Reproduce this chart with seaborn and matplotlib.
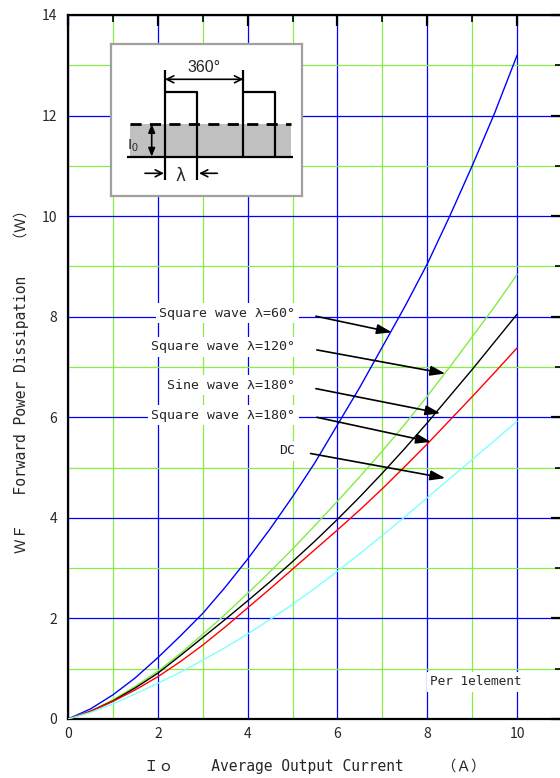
import pandas as pd
import seaborn as sns
import matplotlib.pyplot as plt
from matplotlib.patches import Rectangle

# --- curves (Io in A, WF in W) ---
io = [0, 0.5, 1, 1.5, 2, 2.5, 3, 3.5, 4, 4.5, 5, 5.5, 6, 6.5, 7, 7.5, 8, 8.5, 9, 9.5, 10]
sq60 = [0, 0.20, 0.48, 0.82, 1.22, 1.65, 2.10, 2.62, 3.18, 3.78, 4.42, 5.10, 5.85,
        6.60, 7.40, 8.20, 9.05, 10.0, 11.0, 12.05, 13.2]
sq120 = [0, 0.16, 0.38, 0.65, 0.95, 1.30, 1.68, 2.08, 2.50, 2.93, 3.38, 3.85, 4.33,
         4.82, 5.33, 5.86, 6.42, 7.00, 7.60, 8.20, 8.84]
sine180 = [0, 0.15, 0.36, 0.62, 0.91, 1.26, 1.62, 1.98, 2.35, 2.73, 3.13, 3.54, 3.97,
           4.42, 4.89, 5.38, 5.89, 6.42, 6.95, 7.50, 8.05]
sq180 = [0, 0.15, 0.35, 0.58, 0.84, 1.14, 1.47, 1.83, 2.21, 2.59, 2.98, 3.37, 3.76,
         4.16, 4.58, 5.02, 5.47, 5.94, 6.41, 6.89, 7.38]
dc = [0, 0.13, 0.30, 0.50, 0.71, 0.93, 1.17, 1.42, 1.69, 1.98, 2.28, 2.60, 2.94,
      3.29, 3.65, 4.02, 4.40, 4.78, 5.16, 5.54, 5.92]

curve_names = ["Square wave λ=60°", "Square wave λ=120°", "Sine wave λ=180°",
               "Square wave λ=180°", "DC"]
curve_colors = ["#0000ff", "#80ee40", "#000000", "#ff0000", "#80ffff"]

# label anchor (text right edge) and arrow tip on each curve
label_y = [8.07, 7.40, 6.64, 6.04, 5.33]
arrow_start = [(5.52, 8.01), (5.54, 7.34), (5.52, 6.57), (5.54, 6.00), (5.40, 5.28)]
arrow_tip = [(7.21, 7.69), (8.40, 6.87), (8.29, 6.08), (8.08, 5.51), (8.40, 4.79)]

series = [sq60, sq120, sine180, sq180, dc]
df = pd.concat([pd.DataFrame({"Io": io, "WF": y, "curve": n})
                for y, n in zip(series, curve_names)], ignore_index=True)

sns.set_style("white")
plt.rcParams['font.family'] = ['Noto Sans CJK JP', 'DejaVu Sans']
mono = ['DejaVu Sans Mono', 'Noto Sans CJK JP']

fig = plt.figure(figsize=(5.6, 7.78), dpi=100)
ax = fig.add_axes([68 / 560, 59 / 778, 494 / 560, 704 / 778])

sns.lineplot(data=df, x="Io", y="WF", hue="curve", hue_order=curve_names,
             palette=dict(zip(curve_names, curve_colors)), sort=False,
             estimator=None, legend=False, lw=1.0, ax=ax, zorder=3)

ax.set_xlim(0, 11)
ax.set_ylim(0, 14)
ax.set_xticks(range(0, 11, 2))
ax.set_xticks(range(1, 10, 2), minor=True)
ax.set_yticks(range(0, 15, 2))
ax.set_yticks(range(1, 14, 2), minor=True)
ax.grid(which="major", color="#0000ff", lw=0.9)
ax.grid(which="minor", color="#88ee44", lw=0.9)
ax.set_axisbelow(True)
ax.tick_params(which="both", direction="in", top=True, right=True, labelsize=10)
ax.tick_params(which="major", length=8, width=1.6, color="black")
ax.tick_params(which="minor", length=5, width=1.2, color="black")
ax.tick_params(axis="x", pad=6)
ax.tick_params(axis="y", pad=8)
for s in ax.spines.values():
    s.set_linewidth(1.6)
    s.set_color("black")

ax.set_xlabel("Ｉｏ　　 Average Output Current　　 （Ａ）", fontsize=10.5, family=mono)
ax.set_ylabel("ＷＦ　　Forward Power Dissipation　　（Ｗ）", fontsize=10.5, family=mono)
ax.xaxis.set_label_coords(0.5, -0.056)
ax.yaxis.set_label_coords(-0.078, 0.484)

# labels sit on white boxes that break the grid, arrows point at the curves
box = dict(facecolor="white", edgecolor="none", pad=2.5)
for name, ly, (sx, sy), (tx, ty) in zip(curve_names, label_y, arrow_start, arrow_tip):
    ax.text(5.06, ly, name, ha="right", va="center", fontsize=9.5, family=mono,
            bbox=box, zorder=4)
    ax.annotate("", xy=(tx, ty), xytext=(sx, sy),
                arrowprops=dict(arrowstyle="-|>,head_length=0.9,head_width=0.3",
                                color="black", lw=1.2, shrinkA=0, shrinkB=0),
                zorder=5)

ax.text(8.06, 0.74, "Per 1element", ha="left", va="center", fontsize=9.2, family=mono,
        bbox=box, zorder=4)

# --- waveform inset ---
ins = fig.add_axes([110.7 / 560, 1 - 195.7 / 778, 191.6 / 560, 151.7 / 778], zorder=6)
ins.set_xlim(0, 191.6)
ins.set_ylim(151.7, 0)
ins.set_xticks([])
ins.set_yticks([])
ins.set_facecolor("white")
for s in ins.spines.values():
    s.set_color("#a0a0a0")
    s.set_linewidth(1.6)
k = dict(color="black", lw=1.6, solid_capstyle="butt")
ins.add_patch(Rectangle((19.3, 80), 161, 32.7, color="#c0c0c0", lw=0))
ins.plot([19.3, 180.3], [80, 80], color="black", lw=2, dashes=(4, 3))
ins.plot([16.6, 182], [112.7, 112.7], **k)
ins.plot([54.3, 54.3], [26, 136], **k)
ins.plot([54.3, 86.6, 86.6], [48.3, 48.3, 136], **k)
ins.plot([132.6, 132.6], [26, 112.7], **k)
ins.plot([132.6, 164, 164], [48.3, 48.3, 112.7], **k)
ins.annotate("", xy=(132.6, 35.3), xytext=(54.3, 35.3),
             arrowprops=dict(arrowstyle="<->,head_length=0.5,head_width=0.25",
                             lw=1.2, color="black", shrinkA=0, shrinkB=0))
ins.text(93.3, 31, "360°", ha="center", va="bottom", fontsize=11.5,
         family="Liberation Sans")
ins.annotate("", xy=(41, 80), xytext=(41, 112.7),
             arrowprops=dict(arrowstyle="<|-|>,head_length=0.5,head_width=0.2",
                             lw=1.2, color="black", shrinkA=0, shrinkB=0))
ins.text(22.3, 102, r"$\mathregular{I_0}$", ha="center", va="center", fontsize=11,
         family="Liberation Sans")
ins.annotate("", xy=(53.3, 129.3), xytext=(34.3, 129.3),
             arrowprops=dict(arrowstyle="->,head_length=0.5,head_width=0.25",
                             lw=1.2, color="black", shrinkA=0, shrinkB=0))
ins.annotate("", xy=(88.3, 129.3), xytext=(106.6, 129.3),
             arrowprops=dict(arrowstyle="->,head_length=0.5,head_width=0.25",
                             lw=1.2, color="black", shrinkA=0, shrinkB=0))
ins.text(69.3, 132, "λ", ha="center", va="center", fontsize=12,
         family="DejaVu Sans")

fig.savefig("out.png", dpi=100)
